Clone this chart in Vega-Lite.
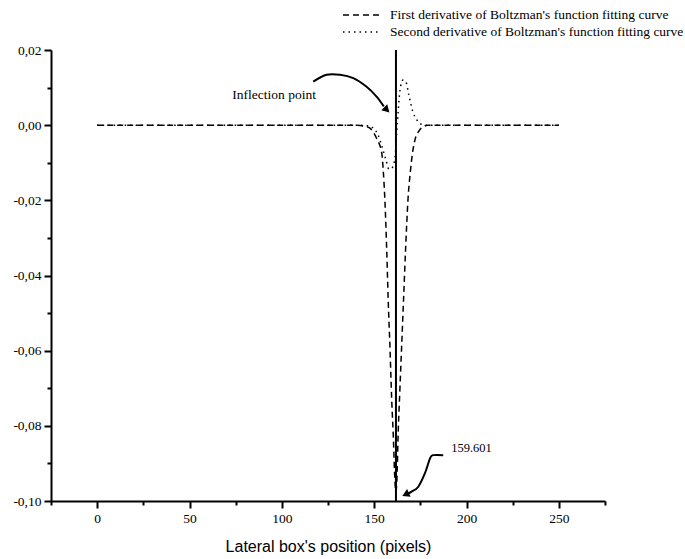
{
  "$schema": "https://vega.github.io/schema/vega-lite/v6.json",
  "width": 554,
  "height": 451,
  "autosize": {"type": "none"},
  "padding": {"left": 51, "top": 50, "right": 80, "bottom": 58},
  "background": "white",
  "config": {
    "view": {"stroke": null},
    "font": "Liberation Serif",
    "style": {
      "guide-label": {"font": "Liberation Serif", "fontSize": 13.5, "fill": "black"},
      "guide-title": {"font": "Liberation Sans", "fontSize": 16, "fill": "black"}
    },
    "axis": {"grid": false, "domainColor": "black", "tickColor": "black", "labelColor": "black", "titleColor": "black", "labelFont": "Liberation Serif", "labelFontSize": 13.5, "titleFont": "Liberation Sans"},
    "legend": {"labelFont": "Liberation Serif"}
  },
  "datasets": {
    "curves": [
      {"series": "First derivative of Boltzman's function fitting curve", "x": 0, "y": 0},
      {"series": "First derivative of Boltzman's function fitting curve", "x": 50, "y": 0},
      {"series": "First derivative of Boltzman's function fitting curve", "x": 100, "y": 0},
      {"series": "First derivative of Boltzman's function fitting curve", "x": 140, "y": 0},
      {"series": "First derivative of Boltzman's function fitting curve", "x": 145, "y": -0.0003},
      {"series": "First derivative of Boltzman's function fitting curve", "x": 147.7, "y": -0.0008},
      {"series": "First derivative of Boltzman's function fitting curve", "x": 151.3, "y": -0.0035},
      {"series": "First derivative of Boltzman's function fitting curve", "x": 154.1, "y": -0.0074},
      {"series": "First derivative of Boltzman's function fitting curve", "x": 154.9, "y": -0.0119},
      {"series": "First derivative of Boltzman's function fitting curve", "x": 155.8, "y": -0.0199},
      {"series": "First derivative of Boltzman's function fitting curve", "x": 156.8, "y": -0.0332},
      {"series": "First derivative of Boltzman's function fitting curve", "x": 157.6, "y": -0.0465},
      {"series": "First derivative of Boltzman's function fitting curve", "x": 158.6, "y": -0.0598},
      {"series": "First derivative of Boltzman's function fitting curve", "x": 159.5, "y": -0.0731},
      {"series": "First derivative of Boltzman's function fitting curve", "x": 160.3, "y": -0.0819},
      {"series": "First derivative of Boltzman's function fitting curve", "x": 161.3, "y": -0.0952},
      {"series": "First derivative of Boltzman's function fitting curve", "x": 161.8, "y": -0.0975},
      {"series": "First derivative of Boltzman's function fitting curve", "x": 162.3, "y": -0.0944},
      {"series": "First derivative of Boltzman's function fitting curve", "x": 163.0, "y": -0.0819},
      {"series": "First derivative of Boltzman's function fitting curve", "x": 163.7, "y": -0.0731},
      {"series": "First derivative of Boltzman's function fitting curve", "x": 164.8, "y": -0.0598},
      {"series": "First derivative of Boltzman's function fitting curve", "x": 165.9, "y": -0.0465},
      {"series": "First derivative of Boltzman's function fitting curve", "x": 167.0, "y": -0.0332},
      {"series": "First derivative of Boltzman's function fitting curve", "x": 168.3, "y": -0.0199},
      {"series": "First derivative of Boltzman's function fitting curve", "x": 169.7, "y": -0.0119},
      {"series": "First derivative of Boltzman's function fitting curve", "x": 171.0, "y": -0.0066},
      {"series": "First derivative of Boltzman's function fitting curve", "x": 172.1, "y": -0.0039},
      {"series": "First derivative of Boltzman's function fitting curve", "x": 174.3, "y": -0.0015},
      {"series": "First derivative of Boltzman's function fitting curve", "x": 176.4, "y": -0.0005},
      {"series": "First derivative of Boltzman's function fitting curve", "x": 179, "y": 0},
      {"series": "First derivative of Boltzman's function fitting curve", "x": 200, "y": 0},
      {"series": "First derivative of Boltzman's function fitting curve", "x": 250, "y": 0},
      {"series": "Second derivative of Boltzman's function fitting curve", "x": 0, "y": 0},
      {"series": "Second derivative of Boltzman's function fitting curve", "x": 50, "y": 0},
      {"series": "Second derivative of Boltzman's function fitting curve", "x": 100, "y": 0},
      {"series": "Second derivative of Boltzman's function fitting curve", "x": 140, "y": 0},
      {"series": "Second derivative of Boltzman's function fitting curve", "x": 147, "y": -0.0002},
      {"series": "Second derivative of Boltzman's function fitting curve", "x": 150, "y": -0.001},
      {"series": "Second derivative of Boltzman's function fitting curve", "x": 152.1, "y": -0.0026},
      {"series": "Second derivative of Boltzman's function fitting curve", "x": 154.8, "y": -0.0066},
      {"series": "Second derivative of Boltzman's function fitting curve", "x": 156.4, "y": -0.0093},
      {"series": "Second derivative of Boltzman's function fitting curve", "x": 158.0, "y": -0.0117},
      {"series": "Second derivative of Boltzman's function fitting curve", "x": 159.6, "y": -0.0114},
      {"series": "Second derivative of Boltzman's function fitting curve", "x": 161.3, "y": -0.0087},
      {"series": "Second derivative of Boltzman's function fitting curve", "x": 162.2, "y": -0.0021},
      {"series": "Second derivative of Boltzman's function fitting curve", "x": 163.0, "y": 0.0036},
      {"series": "Second derivative of Boltzman's function fitting curve", "x": 164.0, "y": 0.0094},
      {"series": "Second derivative of Boltzman's function fitting curve", "x": 165.6, "y": 0.0120},
      {"series": "Second derivative of Boltzman's function fitting curve", "x": 167.2, "y": 0.0115},
      {"series": "Second derivative of Boltzman's function fitting curve", "x": 168.8, "y": 0.0080},
      {"series": "Second derivative of Boltzman's function fitting curve", "x": 171.0, "y": 0.0035},
      {"series": "Second derivative of Boltzman's function fitting curve", "x": 173.1, "y": 0.0014},
      {"series": "Second derivative of Boltzman's function fitting curve", "x": 175.3, "y": 0.0003},
      {"series": "Second derivative of Boltzman's function fitting curve", "x": 178, "y": 0},
      {"series": "Second derivative of Boltzman's function fitting curve", "x": 200, "y": 0},
      {"series": "Second derivative of Boltzman's function fitting curve", "x": 250, "y": 0}
    ],
    "marker": [{"x": 161.8, "ylo": -0.1, "yhi": 0.02}],
    "arrows": [
      {"arrow": "a", "i": 0, "x": 117.0, "y": 0.0116},
      {"arrow": "a", "i": 1, "x": 124.3, "y": 0.0134},
      {"arrow": "a", "i": 2, "x": 131.5, "y": 0.0134},
      {"arrow": "a", "i": 3, "x": 138.7, "y": 0.0125},
      {"arrow": "a", "i": 4, "x": 145.9, "y": 0.0102},
      {"arrow": "a", "i": 5, "x": 151.3, "y": 0.0076},
      {"arrow": "a", "i": 6, "x": 155.2, "y": 0.0050},
      {"arrow": "b", "i": 0, "x": 187.4, "y": -0.0878},
      {"arrow": "b", "i": 1, "x": 182.1, "y": -0.0878},
      {"arrow": "b", "i": 2, "x": 180.3, "y": -0.0886},
      {"arrow": "b", "i": 3, "x": 177.5, "y": -0.0926},
      {"arrow": "b", "i": 4, "x": 173.9, "y": -0.0962},
      {"arrow": "b", "i": 5, "x": 170.3, "y": -0.0975},
      {"arrow": "b", "i": 6, "x": 168.0, "y": -0.0981}
    ],
    "heads": [
      {"arrow": "a", "x": 156.4, "y": 0.0043},
      {"arrow": "b", "x": 167.6, "y": -0.0981}
    ],
    "notes": [
      {"label": "Inflection point", "x": 73.2, "y": 0.008},
      {"label": "159.601", "x": 191.7, "y": -0.0859}
    ]
  },
  "layer": [
    {
      "data": {"name": "curves"},
      "mark": {"type": "line", "color": "black", "strokeWidth": 1.5, "interpolate": "monotone"},
      "encoding": {
        "x": {
          "field": "x", "type": "quantitative",
          "scale": {"domain": [-25, 275], "nice": false, "zero": false},
          "axis": {
            "orient": "bottom", "values": [0, 50, 100, 150, 200, 250],
            "tickSize": 7, "tickWidth": 2, "domainWidth": 2,
            "labelFont": "Liberation Serif", "labelFontSize": 13.5, "labelPadding": 3,
            "labelFlush": false, "labelOverlap": false,
            "title": "Lateral box's position (pixels)",
            "titleFont": "Liberation Sans", "titleFontSize": 16, "titleFontWeight": "normal", "titlePadding": 14
          }
        },
        "y": {
          "field": "y", "type": "quantitative",
          "scale": {"domain": [-0.1, 0.02], "nice": false, "zero": false},
          "axis": {
            "orient": "left", "values": [-0.1, -0.08, -0.06, -0.04, -0.02, 0, 0.02],
            "tickSize": 7, "tickWidth": 2, "domainWidth": 2,
            "labelFont": "Liberation Serif", "labelFontSize": 13.5, "labelPadding": 3,
            "labelFlush": false, "labelOverlap": false,
            "labelExpr": "(datum.value < -0.0001 ? '-' : '') + replace(format(abs(datum.value), '.2f'), '.', ',')",
            "title": null
          }
        },
        "strokeDash": {
          "field": "series", "type": "nominal",
          "scale": {
            "domain": ["First derivative of Boltzman's function fitting curve", "Second derivative of Boltzman's function fitting curve"],
            "range": [[6, 4], [1.5, 4]]
          },
          "legend": {
            "orient": "none", "legendX": 300, "legendY": -45, "title": null, "padding": 0,
            "symbolType": "M-2,0H2", "symbolSize": 324, "symbolStrokeWidth": 1.5, "symbolStrokeColor": "black",
            "labelFont": "Liberation Serif", "labelFontSize": 13.5, "labelColor": "black", "labelLimit": 400,
            "labelOffset": 19, "rowPadding": 0
          }
        }
      }
    },
    {
      "data": {"name": "marker"},
      "mark": {"type": "rule", "color": "black", "strokeWidth": 2},
      "encoding": {
        "x": {
          "field": "x", "type": "quantitative",
          "scale": {"domain": [-25, 275], "nice": false, "zero": false},
          "axis": {"orient": "bottom", "values": [-25, 25, 75, 125, 175, 225, 275], "tickSize": 4, "tickWidth": 2, "labels": false, "domain": false, "title": null}
        },
        "y": {
          "field": "ylo", "type": "quantitative",
          "scale": {"domain": [-0.1, 0.02], "nice": false, "zero": false},
          "axis": {"orient": "left", "values": [-0.09, -0.07, -0.05, -0.03, -0.01, 0.01], "tickSize": 4, "tickWidth": 2, "labels": false, "domain": false, "title": null}
        },
        "y2": {"field": "yhi"}
      }
    },
    {
      "data": {"name": "arrows"},
      "mark": {"type": "line", "color": "black", "strokeWidth": 2, "interpolate": "cardinal"},
      "encoding": {
        "x": {"field": "x", "type": "quantitative", "axis": null},
        "y": {"field": "y", "type": "quantitative", "axis": null},
        "detail": {"field": "arrow"},
        "order": {"field": "i", "type": "quantitative"}
      }
    },
    {
      "data": {"name": "heads"},
      "transform": [{"filter": "datum.arrow === 'a'"}],
      "mark": {"type": "point", "shape": "triangle", "filled": true, "color": "black", "size": 70, "angle": 135, "opacity": 1},
      "encoding": {
        "x": {"field": "x", "type": "quantitative", "axis": null},
        "y": {"field": "y", "type": "quantitative", "axis": null}
      }
    },
    {
      "data": {"name": "heads"},
      "transform": [{"filter": "datum.arrow === 'b'"}],
      "mark": {"type": "point", "shape": "triangle", "filled": true, "color": "black", "size": 70, "angle": 245, "opacity": 1},
      "encoding": {
        "x": {"field": "x", "type": "quantitative", "axis": null},
        "y": {"field": "y", "type": "quantitative", "axis": null}
      }
    },
    {
      "data": {"name": "notes"},
      "transform": [{"filter": "datum.label === 'Inflection point'"}],
      "mark": {"type": "text", "font": "Liberation Serif", "fontSize": 13.5, "align": "left", "baseline": "middle", "color": "black"},
      "encoding": {
        "x": {"field": "x", "type": "quantitative", "axis": null},
        "y": {"field": "y", "type": "quantitative", "axis": null},
        "text": {"field": "label"}
      }
    },
    {
      "data": {"name": "notes"},
      "transform": [{"filter": "datum.label === '159.601'"}],
      "mark": {"type": "text", "font": "Liberation Serif", "fontSize": 12.5, "align": "left", "baseline": "middle", "color": "black"},
      "encoding": {
        "x": {"field": "x", "type": "quantitative", "axis": null},
        "y": {"field": "y", "type": "quantitative", "axis": null},
        "text": {"field": "label"}
      }
    }
  ],
  "resolve": {"axis": {"x": "independent", "y": "independent"}}
}
